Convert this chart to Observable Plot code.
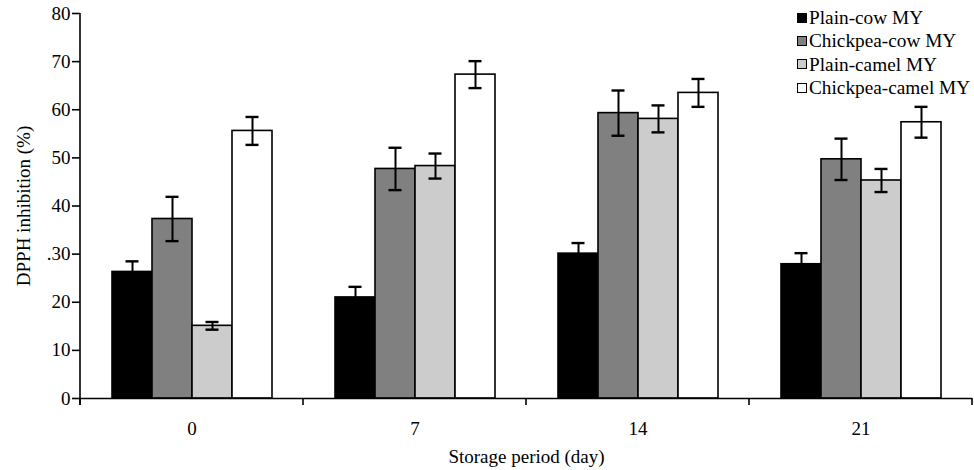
<!DOCTYPE html>
<html>
<head>
<meta charset="utf-8">
<script src="https://cdn.jsdelivr.net/npm/d3@7"></script>
<script src="https://cdn.jsdelivr.net/npm/@observablehq/plot@0.6"></script>
<style>
  html, body { margin: 0; padding: 0; background: #fff; }
  #wrap { position: relative; width: 974px; height: 470px; font-family: "Liberation Serif", "Times New Roman", serif; }
  #legend { position: absolute; left: 797px; top: 6px; font-size: 19.3px; line-height: 23.3px; color: #000; }
  #legend .row { display: flex; align-items: center; white-space: nowrap; }
  #legend .sw { width: 8px; height: 8px; border: 1.5px solid #000; margin-right: 2px; box-sizing: content-box; }
</style>
</head>
<body>
<div id="wrap"><div id="legend"></div></div>
<script>
const days = ["0", "7", "14", "21"];
const seriesNames = ["Plain-cow MY", "Chickpea-cow MY", "Plain-camel MY", "Chickpea-camel MY"];
const seriesColors = ["#000000", "#808080", "#cccccc", "#ffffff"];

const plainCow      = [26.3, 21.0, 30.1, 27.9];
const plainCowErr   = [2.2, 2.2, 2.2, 2.3];
const chickpeaCow    = [37.3, 47.7, 59.3, 49.7];
const chickpeaCowErr = [4.6, 4.4, 4.7, 4.3];
const plainCamel    = [15.1, 48.3, 58.1, 45.3];
const plainCamelErr = [0.8, 2.6, 2.8, 2.4];
const chickpeaCamel    = [55.6, 67.3, 63.5, 57.4];
const chickpeaCamelErr = [2.9, 2.8, 2.9, 3.2];

const yTicks = [0, 10, 20, 30, 40, 50, 60, 70, 80];
const yTickLabels = ["0", "10", "20", ".30", "40", "50", "60", "70", "80"];

const valuesBySeries = [plainCow, chickpeaCow, plainCamel, chickpeaCamel];
const errBySeries = [plainCowErr, chickpeaCowErr, plainCamelErr, chickpeaCamelErr];

const rows = [];
days.forEach((day, i) => {
  seriesNames.forEach((s, j) => {
    rows.push({day, series: s, value: valuesBySeries[j][i], err: errBySeries[j][i]});
  });
});

const font = "Liberation Serif, Times New Roman, serif";

const chart = Plot.plot({
  width: 974,
  height: 470,
  marginLeft: 79,
  marginRight: 2,
  marginTop: 13,
  marginBottom: 72,
  style: {fontFamily: font, fontSize: "19px", background: "white", color: "black"},
  fx: {domain: days, padding: 0},
  x: {domain: seriesNames, paddingInner: 0, paddingOuter: 0.74, axis: null},
  y: {domain: [0, 80]},
  color: {domain: seriesNames, range: seriesColors},
  marks: [
    Plot.barY(rows, {fx: "day", x: "series", y: "value", fill: "series", stroke: "black", strokeWidth: 1.6}),
    Plot.ruleX(rows, {fx: "day", x: "series", y1: d => d.value - d.err, y2: d => d.value + d.err, stroke: "black", strokeWidth: 2}),
    Plot.tickY(rows, {fx: "day", x: "series", y: d => d.value + d.err, stroke: "black", strokeWidth: 2.4, insetLeft: 13.5, insetRight: 13.5}),
    Plot.tickY(rows, {fx: "day", x: "series", y: d => d.value - d.err, stroke: "black", strokeWidth: 2.4, insetLeft: 13.5, insetRight: 13.5}),
    Plot.ruleY([0], {stroke: "black", strokeWidth: 1.6}),
    Plot.axisY({ticks: yTicks, tickFormat: (d) => yTickLabels[yTicks.indexOf(d)], tickSize: 8, tickPadding: 2, strokeWidth: 1.6,
      label: "DPPH inhibition (%)", labelAnchor: "center", labelArrow: "none", labelOffset: 64, fontSize: 19}),
    Plot.axisFx({anchor: "bottom", tickSize: 0, tickPadding: 23, fontSize: 19,
      label: "Storage period (day)", labelAnchor: "center", labelArrow: "none", labelOffset: 64})
  ]
});

// axis line and category-boundary ticks drawn from the plot's own scales
const svg = d3.select(chart.tagName.toLowerCase() === "svg" ? chart : chart.querySelector("svg"));
const fxS = chart.scale("fx");
const yS = chart.scale("y");
const bounds = fxS.domain.map(d => fxS.apply(d));
bounds.push(fxS.apply(fxS.domain[fxS.domain.length - 1]) + fxS.bandwidth);
const y0 = yS.apply(0);
svg.append("g").attr("stroke", "black").attr("stroke-width", 1.6)
  .selectAll("line").data(bounds).join("line")
  .attr("x1", d => d).attr("x2", d => d).attr("y1", y0).attr("y2", y0 + 7);
svg.append("line").attr("stroke", "black").attr("stroke-width", 1.6)
  .attr("x1", bounds[0]).attr("x2", bounds[0]).attr("y1", yS.apply(80)).attr("y2", y0 + 7);

document.getElementById("wrap").prepend(chart);

const legend = d3.select("#legend");
seriesNames.forEach((s, j) => {
  const r = legend.append("div").attr("class", "row");
  r.append("div").attr("class", "sw").style("background", seriesColors[j]);
  r.append("span").text(s);
});
</script>
</body>
</html>
